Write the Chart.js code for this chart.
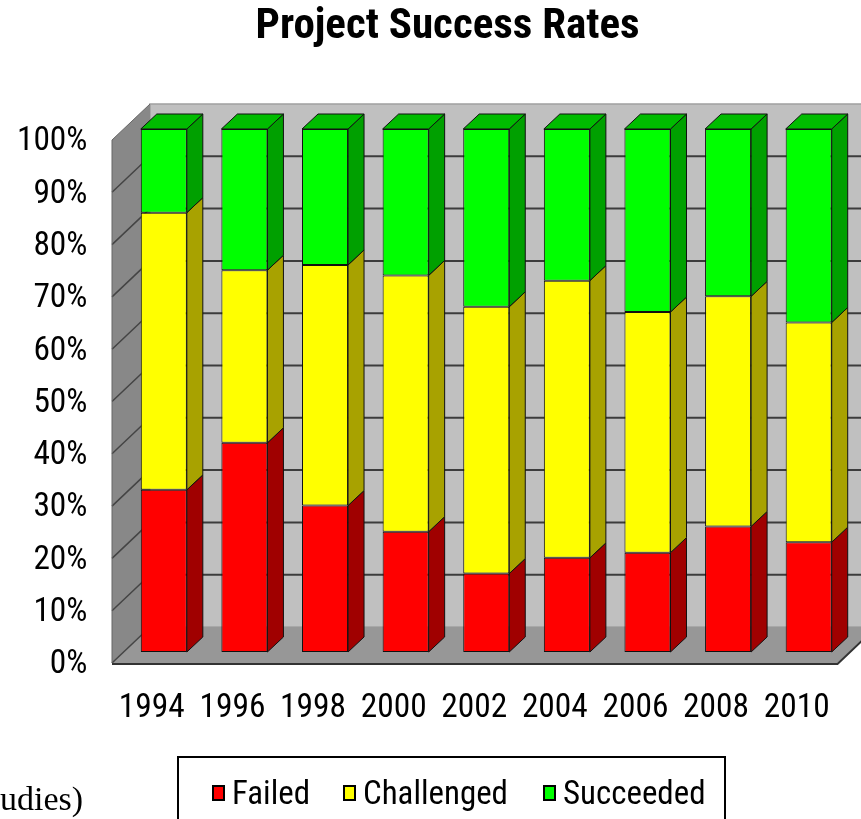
<!DOCTYPE html>
<html>
<head>
<meta charset="utf-8">
<script src="https://cdn.jsdelivr.net/npm/chart.js@4/dist/chart.umd.min.js"></script>
<style>
  html, body { margin: 0; padding: 0; background: #ffffff; }
  #wrap { width: 861px; height: 819px; position: relative; overflow: hidden; }
  canvas { display: block; }
</style>
</head>
<body>
<div id="wrap"><canvas id="chart" width="861" height="819"></canvas></div>
<script>
// ---- data ----
const years = ['1994', '1996', '1998', '2000', '2002', '2004', '2006', '2008', '2010'];
const failed = [31, 40, 28, 23, 15, 18, 19, 24, 21];
const challenged = [53, 33, 46, 49, 51, 53, 46, 44, 42];
const succeeded = [16, 27, 26, 28, 34, 29, 35, 32, 37];
const seriesNames = ['Failed', 'Challenged', 'Succeeded'];
const yTickValues = [0, 10, 20, 30, 40, 50, 60, 70, 80, 90, 100];
const chartTitle = 'Project Success Rates';
const sideNote = 'udies)';

// ---- font selection: prefer a narrow sans, size it to the reference text widths ----
const FONT_CANDIDATES = ['Liberation Sans Narrow', 'Arial Narrow', 'Roboto Condensed',
  'Noto Sans Condensed', 'DejaVu Sans Condensed', 'Liberation Sans', 'Arial'];
const probe = document.createElement('canvas').getContext('2d');
function fontAvailable(name) {
  const s = 'abcdefghijklmnopqrstuvwxyz 0123456789 ABCDEFGHIJKLM';
  probe.font = '40px monospace'; const w1 = probe.measureText(s).width;
  probe.font = '40px "' + name + '", monospace'; const w2 = probe.measureText(s).width;
  probe.font = '40px serif'; const w3 = probe.measureText(s).width;
  probe.font = '40px "' + name + '", serif'; const w4 = probe.measureText(s).width;
  return w1 !== w2 || w3 !== w4;
}
let FAMILY_NAME = 'sans-serif';
for (const f of FONT_CANDIDATES) { if (fontAvailable(f)) { FAMILY_NAME = f; break; } }
const FAMILY = '"' + FAMILY_NAME + '", sans-serif';
function fitSize(text, targetWidth, weight, cap) {
  probe.font = (weight ? weight + ' ' : '') + '100px ' + FAMILY;
  const s = 100 * targetWidth / probe.measureText(text).width;
  return Math.min(cap, s);
}
const tickSize = Math.min(fitSize('1994', 66, '', 37), fitSize('100%', 77, '', 37));
const titleSize = fitSize(chartTitle, 386, 'bold', 43);
const legendSize = fitSize('Challenged', 145, '', 37);

// 3D look: depth of bars and of the floor/walls
const BAR_DEPTH = { dx: 16, dy: -15 };
const FRONT = { dx: -11.5, dy: 11 };
const BACK = { dx: 26.5, dy: -25 };

function poly(ctx, pts, fill, stroke, lw) {
  ctx.beginPath();
  ctx.moveTo(pts[0][0], pts[0][1]);
  for (let i = 1; i < pts.length; i++) ctx.lineTo(pts[i][0], pts[i][1]);
  ctx.closePath();
  if (fill) { ctx.fillStyle = fill; ctx.fill(); }
  if (stroke) { ctx.strokeStyle = stroke; ctx.lineWidth = lw || 1; ctx.stroke(); }
}

const labelRoom = {
  id: 'labelRoom',
  beforeDraw(chart) {
    // let the y tick labels use the whole left margin (no clipping at the axis box)
    const ys = chart.scales.y;
    ys.left = 0;
  }
};

const threeD = {
  id: 'threeD',
  beforeDatasetsDraw(chart) {
    const { ctx, chartArea: a, scales: { y } } = chart;
    const y0 = y.getPixelForValue(0);
    const y100 = y.getPixelForValue(100);
    ctx.save();
    const bl = a.left + BACK.dx, br = a.right + BACK.dx;
    // back wall
    poly(ctx, [[bl, y100 + BACK.dy], [br, y100 + BACK.dy], [br, y0 + BACK.dy], [bl, y0 + BACK.dy]], '#C0C0C0', '#a0a0a0', 1.5);
    // floor
    poly(ctx, [[a.left + FRONT.dx, y0 + FRONT.dy], [a.right + FRONT.dx, y0 + FRONT.dy],
               [a.right + BACK.dx, y0 + BACK.dy], [a.left + BACK.dx, y0 + BACK.dy]], '#979797', null);
    // left wall
    poly(ctx, [[a.left + FRONT.dx, y0 + FRONT.dy], [a.left + FRONT.dx, y100 + FRONT.dy],
               [a.left + BACK.dx, y100 + BACK.dy], [a.left + BACK.dx, y0 + BACK.dy]], '#888888', null);
    // grid lines on back wall and left wall
    y.ticks.forEach(t => {
      const v = t.value;
      const py = y.getPixelForValue(v);
      if (v > 0 && v < 100) {
        ctx.strokeStyle = '#3c3c3c';
        ctx.lineWidth = 2;
        ctx.beginPath();
        ctx.moveTo(bl, py + BACK.dy);
        ctx.lineTo(br, py + BACK.dy);
        ctx.stroke();
      }
      if (v < 100) {
        ctx.strokeStyle = '#444444';
        ctx.lineWidth = 1.5;
        ctx.beginPath();
        ctx.moveTo(a.left + FRONT.dx, py + FRONT.dy);
        ctx.lineTo(a.left + BACK.dx, py + BACK.dy);
        ctx.stroke();
      }
    });
    // floor front edge
    ctx.strokeStyle = '#333333';
    ctx.lineWidth = 2;
    ctx.beginPath();
    ctx.moveTo(a.left + FRONT.dx, y0 + FRONT.dy + 1);
    ctx.lineTo(a.right + FRONT.dx, y0 + FRONT.dy + 1);
    ctx.lineTo(a.right + BACK.dx, y0 + BACK.dy + 1);
    ctx.stroke();
    ctx.strokeStyle = '#666666';
    ctx.lineWidth = 1;
    ctx.beginPath();
    ctx.moveTo(a.left + FRONT.dx, y0 + FRONT.dy);
    ctx.lineTo(a.left + FRONT.dx, y100 + FRONT.dy);
    ctx.lineTo(a.left + BACK.dx, y100 + BACK.dy);
    ctx.stroke();

    // side and top faces of the bars
    const nDs = chart.data.datasets.length;
    chart.data.datasets.forEach((ds, di) => {
      const meta = chart.getDatasetMeta(di);
      meta.data.forEach((bar) => {
        const p = bar.getProps(['x', 'y', 'base', 'width'], true);
        const xl = p.x - p.width / 2, xr = p.x + p.width / 2;
        const top = Math.min(p.y, p.base), bot = Math.max(p.y, p.base);
        poly(ctx, [[xr, top], [xr + BAR_DEPTH.dx, top + BAR_DEPTH.dy],
                   [xr + BAR_DEPTH.dx, bot + BAR_DEPTH.dy], [xr, bot]], ds.sideColor, '#111111', 1);
        if (di === nDs - 1) {
          poly(ctx, [[xl, top], [xr, top], [xr + BAR_DEPTH.dx, top + BAR_DEPTH.dy],
                     [xl + BAR_DEPTH.dx, top + BAR_DEPTH.dy]], ds.topColor, '#111111', 1);
        }
      });
    });
    ctx.restore();
  }
};

const boxLegend = {
  id: 'boxLegend',
  afterDraw(chart) {
    const { ctx } = chart;
    ctx.save();
    ctx.strokeStyle = '#000000';
    ctx.lineWidth = 2;
    ctx.strokeRect(178, 757, 547, 80);
    ctx.font = legendSize + 'px ' + FAMILY;
    ctx.textBaseline = 'middle';
    ctx.textAlign = 'left';
    const squareX = [213, 344, 544];
    chart.data.datasets.forEach((ds, i) => {
      const x = squareX[i];
      ctx.fillStyle = ds.backgroundColor;
      ctx.fillRect(x, 786, 11, 14);
      ctx.strokeStyle = '#000000';
      ctx.lineWidth = 2;
      ctx.strokeRect(x, 786, 11, 14);
      ctx.fillStyle = '#000000';
      ctx.fillText(ds.label, x + 19, 796);
    });
    // cut-off note at the left edge
    ctx.font = '34px "Liberation Serif", "Times New Roman", serif';
    ctx.textBaseline = 'alphabetic';
    ctx.fillText(sideNote, 0, 810);
    ctx.restore();
  }
};

const ctx = document.getElementById('chart').getContext('2d');
new Chart(ctx, {
  type: 'bar',
  data: {
    labels: years,
    datasets: [
      { label: seriesNames[0], data: failed, backgroundColor: '#FF0000', sideColor: '#A00000', topColor: '#C00000' },
      { label: seriesNames[1], data: challenged, backgroundColor: '#FFFF00', sideColor: '#A8A200', topColor: '#C8C000' },
      { label: seriesNames[2], data: succeeded, backgroundColor: '#00FF00', sideColor: '#00A000', topColor: '#00BC00' }
    ].map(d => Object.assign(d, {
      borderColor: '#111111',
      borderWidth: 1,
      borderSkipped: false,
      barPercentage: 0.571,
      categoryPercentage: 1.0,
      clip: false
    }))
  },
  options: {
    responsive: false,
    animation: false,
    devicePixelRatio: 1,
    layout: { padding: { left: 46, right: 12, top: 0, bottom: 87 } },
    plugins: {
      legend: { display: false },
      tooltip: { enabled: false },
      title: {
        display: true,
        text: chartTitle,
        color: '#000000',
        font: { family: FAMILY, size: titleSize, weight: 'bold' },
        padding: { top: 27.5 - titleSize * 0.6, bottom: 129 - (27.5 + titleSize * 0.6) }
      }
    },
    scales: {
      x: {
        stacked: true,
        grid: { display: false, drawTicks: false },
        border: { display: false },
        ticks: {
          color: '#000000',
          font: { family: FAMILY, size: tickSize },
          padding: 56.5 - tickSize * 0.6,
          labelOffset: -12,
          maxRotation: 0,
          autoSkip: false
        },
        afterFit(scale) { scale.height = 80; scale.paddingLeft = 0; scale.paddingRight = 0; }
      },
      y: {
        stacked: true,
        min: 0,
        max: 100,
        grid: { display: false, drawTicks: false },
        border: { display: false },
        afterBuildTicks(scale) { scale.ticks = yTickValues.map(v => ({ value: v })); },
        ticks: {
          color: '#000000',
          font: { family: FAMILY, size: tickSize },
          padding: 36,
          labelOffset: 13,
          callback: (v) => v + '%'
        },
        afterFit(scale) { scale.width = 77.5; }
      }
    }
  },
  plugins: [labelRoom, threeD, boxLegend]
});
</script>
</body>
</html>
